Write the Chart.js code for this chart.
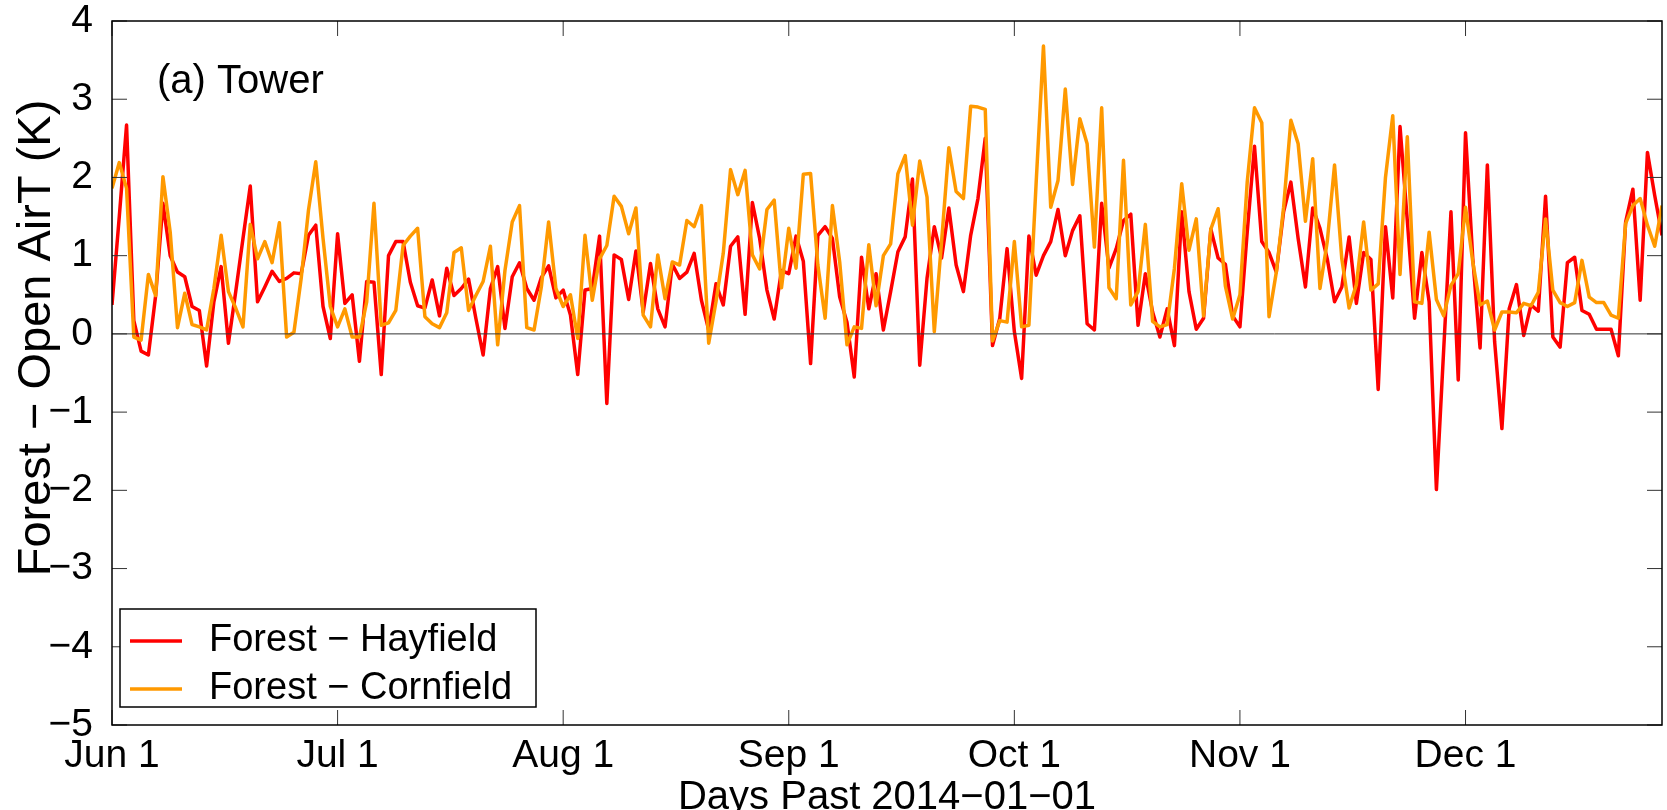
<!DOCTYPE html>
<html>
<head>
<meta charset="utf-8">
<title>Forest - Open AirT</title>
<script src="https://cdn.jsdelivr.net/npm/chart.js@4"></script>
<style>
    html, body { margin: 0; padding: 0; background: #fff; }
    #wrap { width: 1667px; height: 810px; }
</style>
</head>
<body>
<div id="wrap"><canvas id="chart" width="1667" height="810"></canvas></div>
<script>
// Días desde 2014-01-01
const startDay = 151;
const endDay = 364;
const tickDays = [151, 182, 213, 244, 275, 306, 337];
const tickLabels = ['Jun 1', 'Jul 1', 'Aug 1', 'Sep 1', 'Oct 1', 'Nov 1', 'Dec 1'];
const panelLabel = '(a) Tower';
const yTitle = 'Forest \u2212 Open AirT (K)';
const xTitle = 'Days Past 2014\u221201\u221201';
const seriesNames = ['Forest \u2212 Hayfield', 'Forest \u2212 Cornfield'];

// Forest - Hayfield (K), un valor por día
const hayfield = [
    0.37, 1.50, 2.67, 0.17, -0.22, -0.27, 0.49, 1.67, 1.00, 0.79,
    0.73, 0.35, 0.30, -0.41, 0.41, 0.86, -0.12, 0.54, 1.22, 1.89,
    0.41, 0.60, 0.80, 0.67, 0.71, 0.78, 0.77, 1.26, 1.39, 0.35,
    -0.06, 1.28, 0.39, 0.50, -0.35, 0.67, 0.66, -0.52, 1.00, 1.18,
    1.18, 0.66, 0.36, 0.33, 0.69, 0.23, 0.84, 0.49, 0.58, 0.70,
    0.20, -0.27, 0.58, 0.86, 0.07, 0.73, 0.91, 0.58, 0.43, 0.72,
    0.87, 0.46, 0.56, 0.24, -0.52, 0.56, 0.58, 1.25, -0.89, 1.01,
    0.95, 0.44, 1.06, 0.28, 0.90, 0.32, 0.09, 0.89, 0.71, 0.79,
    1.03, 0.43, 0.05, 0.64, 0.37, 1.12, 1.24, 0.25, 1.68, 1.22,
    0.56, 0.19, 0.81, 0.77, 1.25, 0.93, -0.38, 1.26, 1.37, 1.22,
    0.47, 0.15, -0.55, 0.98, 0.32, 0.77, 0.05, 0.54, 1.05, 1.24,
    1.98, -0.40, 0.71, 1.37, 0.97, 1.61, 0.88, 0.54, 1.26, 1.73,
    2.50, -0.15, 0.20, 1.09, 0.03, -0.57, 1.25, 0.75, 1.00, 1.18,
    1.59, 1.00, 1.32, 1.51, 0.13, 0.05, 1.67, 0.84, 1.09, 1.45,
    1.53, 0.11, 0.77, 0.28, -0.04, 0.32, -0.15, 1.56, 0.54, 0.06,
    0.20, 1.34, 0.97, 0.89, 0.23, 0.09, 1.30, 2.40, 1.18, 1.04,
    0.79, 1.56, 1.94, 1.22, 0.60, 1.61, 1.35, 0.96, 0.41, 0.60,
    1.24, 0.39, 1.04, 0.95, -0.71, 1.37, 0.46, 2.65, 1.45, 0.20,
    1.04, 0.41, -1.99, -0.20, 1.56, -0.59, 2.57, 0.96, -0.18, 2.16,
    -0.10, -1.21, 0.32, 0.63, -0.02, 0.37, 0.29, 1.76, -0.04, -0.17,
    0.91, 0.98, 0.30, 0.25, 0.06, 0.06, 0.06, -0.28, 1.43, 1.85,
    0.43, 2.32, 1.77, 1.26
];

// Forest - Cornfield (K)
const cornfield = [
    1.86, 2.19, 1.86, -0.04, -0.08, 0.76, 0.49, 2.01, 1.30, 0.08,
    0.52, 0.12, 0.09, 0.05, 0.58, 1.26, 0.54, 0.33, 0.09, 1.40,
    0.96, 1.18, 0.91, 1.42, -0.04, 0.02, 0.71, 1.58, 2.20, 1.22,
    0.35, 0.09, 0.32, -0.04, -0.04, 0.41, 1.67, 0.11, 0.14, 0.30,
    1.13, 1.25, 1.35, 0.22, 0.13, 0.08, 0.27, 1.04, 1.10, 0.30,
    0.49, 0.67, 1.12, -0.14, 0.81, 1.43, 1.64, 0.08, 0.05, 0.60,
    1.43, 0.58, 0.35, 0.50, -0.06, 1.26, 0.43, 0.96, 1.13, 1.76,
    1.63, 1.28, 1.61, 0.24, 0.09, 1.01, 0.45, 0.92, 0.88, 1.45,
    1.37, 1.64, -0.12, 0.41, 1.03, 2.10, 1.78, 2.09, 1.01, 0.83,
    1.59, 1.71, 0.59, 1.35, 0.84, 2.04, 2.05, 0.88, 0.20, 1.64,
    0.92, -0.14, 0.09, 0.07, 1.14, 0.36, 1.00, 1.15, 2.05, 2.28,
    1.39, 2.21, 1.75, 0.03, 1.18, 2.38, 1.82, 1.73, 2.91, 2.90,
    2.87, -0.09, 0.17, 0.15, 1.18, 0.09, 0.11, 1.94, 3.68, 1.62,
    1.96, 3.13, 1.91, 2.75, 2.43, 1.11, 2.89, 0.59, 0.45, 2.22,
    0.37, 0.54, 1.40, 0.16, 0.09, 0.12, 0.84, 1.92, 1.07, 1.47,
    0.23, 1.34, 1.60, 0.61, 0.19, 0.50, 1.94, 2.89, 2.70, 0.22,
    0.79, 1.62, 2.73, 2.43, 1.44, 2.24, 0.58, 1.18, 2.16, 0.96,
    0.33, 0.63, 1.43, 0.56, 0.64, 2.00, 2.79, 0.76, 2.52, 0.41,
    0.39, 1.30, 0.44, 0.23, 0.62, 0.77, 1.62, 0.92, 0.37, 0.42,
    0.05, 0.28, 0.28, 0.27, 0.39, 0.36, 0.53, 1.47, 0.56, 0.40,
    0.35, 0.40, 0.94, 0.47, 0.40, 0.40, 0.24, 0.20, 1.41, 1.64,
    1.73, 1.39, 1.12, 1.64
];

const FONT = '"Liberation Sans", Arial, sans-serif';
Chart.defaults.font.family = FONT;
Chart.defaults.color = '#000';

function toPoints(values) {
    return values.map((v, i) => ({ x: startDay + i, y: v }));
}

function minusSign(v) {
    return v < 0 ? '\u2212' + Math.abs(v) : String(v);
}

// Marco estilo MATLAB: caja, ticks hacia dentro, línea del cero, leyenda y etiquetas
const matlabAxes = {
    id: 'matlabAxes',
    afterDatasetsDraw(chart) {
        const { ctx, chartArea: a, scales: { x, y } } = chart;
        const seg = (x1, y1, x2, y2) => {
            ctx.beginPath();
            ctx.moveTo(x1, y1);
            ctx.lineTo(x2, y2);
            ctx.stroke();
        };
        ctx.save();

        // línea del cero
        const y0 = y.getPixelForValue(0);
        ctx.strokeStyle = '#333';
        ctx.lineWidth = 1;
        seg(a.left, y0, a.right, y0);

        // ticks hacia dentro
        ctx.strokeStyle = '#333';
        y.ticks.forEach(t => {
            const py = y.getPixelForValue(t.value);
            seg(a.left, py, a.left + 15, py);
            seg(a.right - 15, py, a.right, py);
        });
        x.ticks.forEach(t => {
            const px = x.getPixelForValue(t.value);
            seg(px, a.bottom, px, a.bottom - 15);
            seg(px, a.top, px, a.top + 15);
        });

        // caja
        ctx.strokeStyle = '#000';
        ctx.lineWidth = 1.5;
        ctx.strokeRect(a.left, a.top, a.right - a.left, a.bottom - a.top);

        // etiqueta del panel
        ctx.fillStyle = '#000';
        ctx.font = '40px ' + FONT;
        ctx.textBaseline = 'alphabetic';
        ctx.textAlign = 'left';
        ctx.fillText(panelLabel, a.left + 45, a.top + 72);

        // título del eje y (desplazado hacia arriba como en el original)
        ctx.save();
        ctx.translate(37, 338);
        ctx.rotate(-Math.PI / 2);
        ctx.font = '47px ' + FONT;
        ctx.textAlign = 'center';
        ctx.textBaseline = 'middle';
        ctx.fillText(yTitle, 0, 0);
        ctx.restore();

        // leyenda
        const box = { left: a.left + 8, right: a.left + 424, top: a.bottom - 116, bottom: a.bottom - 18 };
        ctx.fillStyle = '#fff';
        ctx.fillRect(box.left, box.top, box.right - box.left, box.bottom - box.top);
        ctx.strokeStyle = '#000';
        ctx.lineWidth = 1.5;
        ctx.strokeRect(box.left, box.top, box.right - box.left, box.bottom - box.top);
        ctx.font = '38px ' + FONT;
        ctx.textAlign = 'left';
        ctx.textBaseline = 'middle';
        chart.data.datasets.forEach((ds, i) => {
            const ry = box.top + 32 + i * 48;
            ctx.strokeStyle = ds.borderColor;
            ctx.lineWidth = 3.5;
            seg(box.left + 10, ry, box.left + 62, ry);
            ctx.fillStyle = '#000';
            ctx.fillText(ds.label, box.left + 89, ry);
        });

        ctx.restore();
    }
};

new Chart(document.getElementById('chart'), {
    type: 'line',
    data: {
        datasets: [
            {
                label: seriesNames[0],
                data: toPoints(hayfield),
                borderColor: '#ff0000',
                borderWidth: 3.5,
                order: 2
            },
            {
                label: seriesNames[1],
                data: toPoints(cornfield),
                borderColor: '#ff9900',
                borderWidth: 3.5,
                order: 1
            }
        ]
    },
    options: {
        responsive: false,
        devicePixelRatio: 1,
        animation: false,
        elements: {
            point: { radius: 0, hoverRadius: 0 },
            line: { tension: 0, fill: false, borderJoinStyle: 'round' }
        },
        layout: { padding: { top: 21, right: 5, left: 0, bottom: 0 } },
        plugins: {
            legend: { display: false },
            tooltip: { enabled: false }
        },
        scales: {
            x: {
                type: 'linear',
                min: startDay,
                max: endDay,
                afterBuildTicks: (scale) => {
                    scale.ticks = tickDays.map(v => ({ value: v }));
                },
                afterFit: (scale) => {
                    scale.height = 85;
                    scale.paddingLeft = 0;
                    scale.paddingRight = 0;
                },
                grid: { display: false, drawTicks: false },
                border: { display: false },
                ticks: {
                    autoSkip: false,
                    maxRotation: 0,
                    padding: 8,
                    font: { size: 39 },
                    color: '#000',
                    callback: (v) => tickLabels[tickDays.indexOf(v)]
                },
                title: {
                    display: true,
                    text: xTitle,
                    font: { size: 40 },
                    color: '#000',
                    padding: { top: 0, bottom: -12 }
                }
            },
            y: {
                min: -5,
                max: 4,
                afterFit: (scale) => {
                    scale.width = 112;
                    scale.paddingTop = 0;
                    scale.paddingBottom = 0;
                },
                grid: { display: false, drawTicks: false },
                border: { display: false },
                ticks: {
                    stepSize: 1,
                    padding: 19,
                    font: { size: 39 },
                    color: '#000',
                    callback: (v) => minusSign(v)
                },
                title: { display: false }
            }
        }
    },
    plugins: [matlabAxes]
});
</script>
</body>
</html>
